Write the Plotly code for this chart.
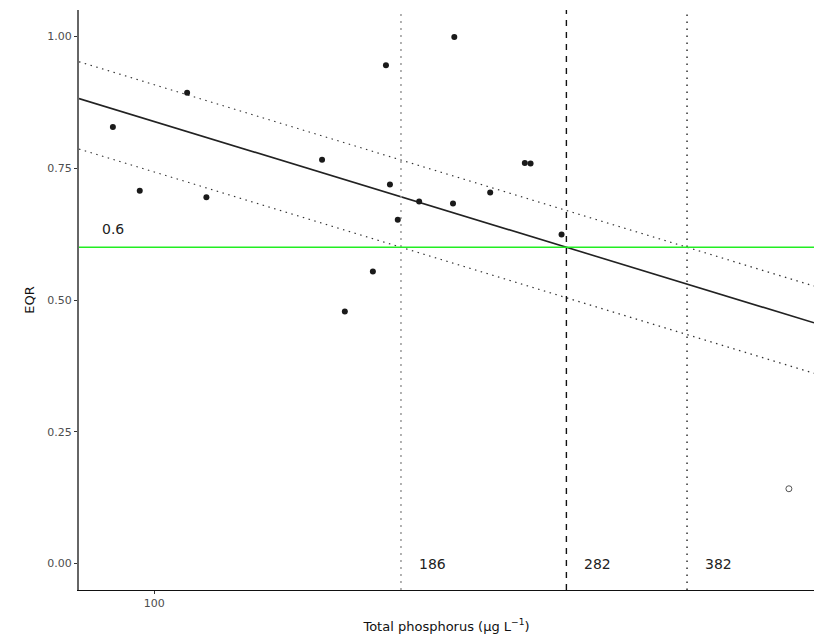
import math
import plotly.graph_objects as go

# Data
tp = [90.1, 96.4, 108.6, 114.0, 152.5, 161.5, 173.3, 179.1, 180.9, 184.5,
      194.7, 212.7, 212.0, 232.8, 254.0, 257.7, 278.6]
eqr = [0.828, 0.707, 0.893, 0.695, 0.766, 0.478, 0.554, 0.945, 0.719, 0.652,
       0.687, 0.999, 0.683, 0.704, 0.760, 0.759, 0.624]
outlier_tp = [493.6]
outlier_eqr = [0.142]

boundary_eqr = 0.6
thresholds = [186, 282, 382]          # lower CI, fit, upper CI crossing 0.6
threshold_labels = ["186", "282", "382"]
slope = -0.5296                        # EQR per log10(TP)

x_range_log = [1.9177, 2.7208]
y_range = [-0.05, 1.05]

fig = go.Figure()

# regression line and CI lines (parallel, crossing 0.6 at thresholds)
styles = [
    dict(color="#333333", width=1.2, dash="1.5px,4.5px"),
    dict(color="#222222", width=1.6, dash="solid"),
    dict(color="#333333", width=1.2, dash="1.5px,4.5px"),
]
for thr, st in zip(thresholds, styles):
    xs = [10 ** x_range_log[0], 10 ** x_range_log[1]]
    ys = [boundary_eqr + slope * (math.log10(x) - math.log10(thr)) for x in xs]
    fig.add_trace(go.Scatter(x=xs, y=ys, mode="lines", line=st,
                             hoverinfo="skip", showlegend=False))

# vertical threshold lines
vstyles = [
    dict(color="#999999", width=1.5, dash="2px,5px"),
    dict(color="#111111", width=1.4, dash="6px,6px"),
    dict(color="#111111", width=1.3, dash="1.5px,5.5px"),
]
for thr, st in zip(thresholds, vstyles):
    fig.add_trace(go.Scatter(x=[thr, thr], y=y_range, mode="lines", line=st,
                             hoverinfo="skip", showlegend=False))

# boundary line
fig.add_trace(go.Scatter(x=[10 ** x_range_log[0], 10 ** x_range_log[1]],
                         y=[boundary_eqr, boundary_eqr], mode="lines",
                         line=dict(color="#22ee22", width=1.5),
                         hoverinfo="skip", showlegend=False))

# points
fig.add_trace(go.Scatter(x=tp, y=eqr, mode="markers",
                         marker=dict(color="#1a1a1a", size=6),
                         showlegend=False))
fig.add_trace(go.Scatter(x=outlier_tp, y=outlier_eqr, mode="markers",
                         marker=dict(color="white", size=6,
                                     line=dict(color="#555555", width=1)),
                         showlegend=False))

annotations = []
for thr, lab in zip(thresholds, threshold_labels):
    annotations.append(dict(x=math.log10(thr), y=0.0, xref="x", yref="y",
                            text=lab, showarrow=False, xanchor="left",
                            yanchor="middle", xshift=16,
                            font=dict(family="DejaVu Sans", size=14, color="#222222")))
annotations.append(dict(x=math.log10(90.1), y=0.635, xref="x", yref="y",
                        text="0.6", showarrow=False, xanchor="center",
                        yanchor="middle",
                        font=dict(family="DejaVu Sans", size=14, color="#222222")))

fig.update_layout(
    width=814, height=643,
    margin=dict(l=79, r=0, t=10, b=53),
    paper_bgcolor="white", plot_bgcolor="white",
    font=dict(family="DejaVu Sans", color="#222222"),
    annotations=annotations,
    xaxis=dict(type="log", range=x_range_log, tickvals=[100], ticktext=["100"],
               showgrid=False, zeroline=False, showline=True,
               linecolor="#111111", linewidth=1.3,
               ticks="outside", ticklen=3, tickcolor="#333333",
               tickfont=dict(family="DejaVu Sans", size=11, color="#4d4d4d"),
               title=dict(text="Total phosphorus (µg L<sup>−1</sup>)",
                          font=dict(family="DejaVu Sans", size=13, color="#111111"),
                          standoff=12)),
    yaxis=dict(range=y_range, tickvals=[0, 0.25, 0.5, 0.75, 1.0],
               ticktext=["0.00", "0.25", "0.50", "0.75", "1.00"],
               showgrid=False, zeroline=False, showline=True,
               linecolor="#666666", linewidth=2,
               ticks="outside", ticklen=3, tickcolor="#333333",
               tickfont=dict(family="DejaVu Sans", size=11, color="#4d4d4d"),
               title=dict(text="EQR",
                          font=dict(family="DejaVu Sans", size=13, color="#111111"),
                          standoff=10)),
)

fig.write_html("out.html")
